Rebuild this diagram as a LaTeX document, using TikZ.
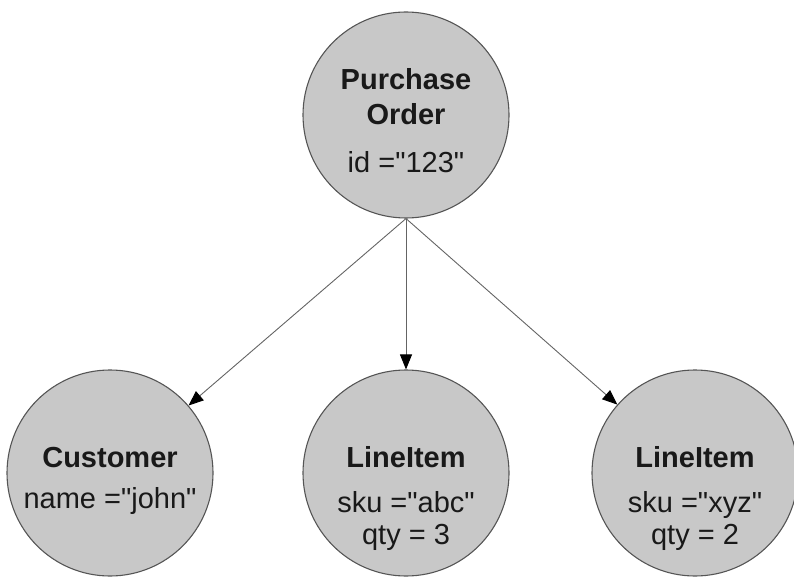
\documentclass[tikz,border=0pt]{standalone}
\usepackage{fontspec}
\setmainfont[Ligatures=TeXOff]{Liberation Sans}
\usetikzlibrary{arrows.meta}
\definecolor{objfill}{RGB}{200,200,200}
\definecolor{objline}{RGB}{85,85,85}
\definecolor{arrline}{RGB}{100,100,100}
\definecolor{txt}{RGB}{25,25,25}
\begin{document}
\begin{tikzpicture}[x=1pt,y=-1pt,
  obj/.style={circle, draw=objline, line width=1.1pt, fill=objfill, minimum size=206pt, inner sep=0pt},
  ttl/.style={anchor=base, inner sep=0pt, text=txt, font=\fontsize{29}{34}\selectfont\bfseries},
  att/.style={anchor=base, inner sep=0pt, text=txt, font=\fontsize{29}{34}\selectfont},
  link/.style={draw=arrline, line width=0.9pt, -{Triangle[length=15pt,width=12pt,fill=black,color=black]}}
]
\useasboundingbox (0,0) rectangle (794,577);
\clip (0,0) rectangle (794,577);
\node[obj] (po) at (406,115) {};
\node[obj] (cu) at (110,473) {};
\node[obj] (li1) at (406,473) {};
\node[obj] (li2) at (695,473) {};

\node[ttl] (poA) at (406,90) {Purchase};
\node[ttl] (poB) at (406,125) {Order};
\node[att] (poC) at (406,173) {id ="123"};

\node[ttl] (cuA) at (110,467) {Customer};
\node[att] (cuB) at (110,508) {name ="john"};

\node[ttl] (l1A) at (406,467) {LineItem};
\node[att] (l1B) at (406,512) {sku ="abc"};
\node[att] (l1C) at (406,544) {qty = 3};

\node[ttl] (l2A) at (695,467) {LineItem};
\node[att] (l2B) at (695,512) {sku ="xyz"};
\node[att] (l2C) at (695,544) {qty = 2};

\draw[link] (po.south) -- (cu);
\draw[link] (po.south) -- (li1);
\draw[link] (po.south) -- (li2);
\end{tikzpicture}
\end{document}
